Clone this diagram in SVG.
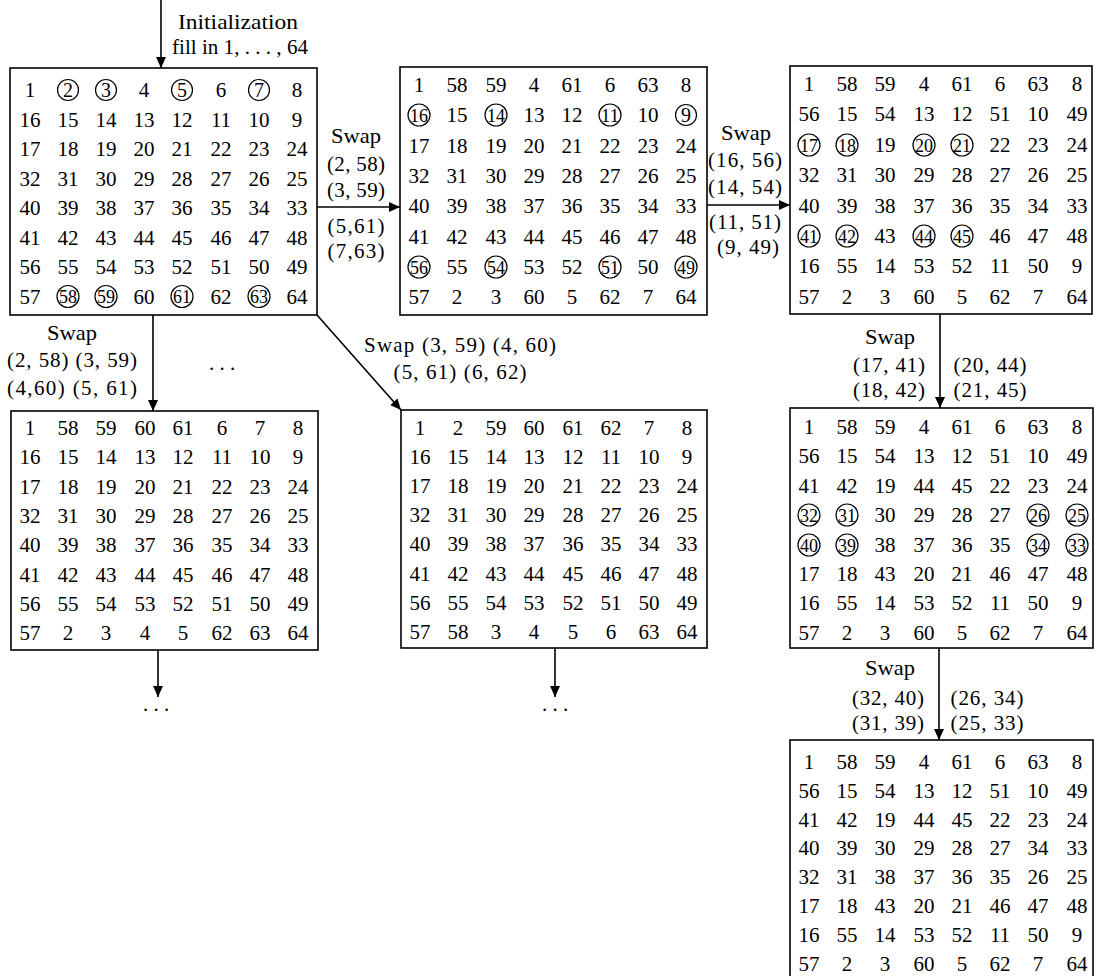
<svg xmlns="http://www.w3.org/2000/svg" width="1098" height="976" viewBox="0 0 1098 976">
<style>
text{font-family:"Liberation Serif","DejaVu Serif",serif;fill:#000}
.n{font-size:21px;text-anchor:middle}
.l{font-size:21px;text-anchor:middle}
.c1{font-size:20px;text-anchor:middle}
.c2{font-size:19px;text-anchor:middle}
.box{fill:#fff;stroke:#000;stroke-width:1.6}
.ring{fill:none;stroke:#000;stroke-width:1.2}
.ln{stroke:#000;stroke-width:1.6;fill:none}
</style>
<defs>
<marker id="ah" markerUnits="userSpaceOnUse" markerWidth="11" markerHeight="10" refX="11" refY="5" orient="auto"><path d="M0,0 L11,5 L0,10 z" fill="#000"/></marker>
</defs>

<g id="connectors">
<line class="ln" x1="161" y1="0" x2="161" y2="68" marker-end="url(#ah)"/>
<line class="ln" x1="317" y1="207" x2="400" y2="207" marker-end="url(#ah)"/>
<line class="ln" x1="707" y1="205" x2="790" y2="205" marker-end="url(#ah)"/>
<line class="ln" x1="153" y1="315" x2="153" y2="411" marker-end="url(#ah)"/>
<line class="ln" x1="317" y1="315" x2="401" y2="410" marker-end="url(#ah)"/>
<line class="ln" x1="158" y1="650" x2="158" y2="697" marker-end="url(#ah)"/>
<line class="ln" x1="555" y1="648" x2="555" y2="697" marker-end="url(#ah)"/>
<line class="ln" x1="940" y1="314" x2="940" y2="408" marker-end="url(#ah)"/>
<line class="ln" x1="939" y1="648" x2="939" y2="740" marker-end="url(#ah)"/>

<text class="l" x="238" y="29" textLength="120" lengthAdjust="spacingAndGlyphs">Initialization</text>
<text class="l" x="240" y="54" textLength="136" lengthAdjust="spacingAndGlyphs">fill in 1, . . . , 64</text>

<text class="l" x="356" y="143" textLength="50" lengthAdjust="spacingAndGlyphs">Swap</text>
<text class="l" x="356" y="171" textLength="58" lengthAdjust="spacing">(2, 58)</text>
<text class="l" x="356" y="197" textLength="58" lengthAdjust="spacing">(3, 59)</text>
<text class="l" x="356" y="233" textLength="57" lengthAdjust="spacing">(5,61)</text>
<text class="l" x="356" y="258" textLength="57" lengthAdjust="spacing">(7,63)</text>

<text class="l" x="746" y="140" textLength="50" lengthAdjust="spacingAndGlyphs">Swap</text>
<text class="l" x="745" y="167" textLength="74" lengthAdjust="spacing">(16, 56)</text>
<text class="l" x="745" y="194" textLength="74" lengthAdjust="spacing">(14, 54)</text>
<text class="l" x="745" y="229" textLength="72" lengthAdjust="spacing">(11, 51)</text>
<text class="l" x="748" y="254" textLength="62" lengthAdjust="spacing">(9, 49)</text>

<text class="l" x="72" y="340" textLength="50" lengthAdjust="spacingAndGlyphs">Swap</text>
<text class="l" x="72" y="367" textLength="130" lengthAdjust="spacing">(2, 58) (3, 59)</text>
<text class="l" x="72" y="395" textLength="130" lengthAdjust="spacing">(4,60) (5, 61)</text>
<text class="l" x="222" y="370">. . .</text>

<text class="l" x="460" y="352" textLength="192" lengthAdjust="spacing">Swap (3, 59) (4, 60)</text>
<text class="l" x="460" y="379" textLength="133" lengthAdjust="spacing">(5, 61) (6, 62)</text>

<text class="l" x="156" y="711">. . .</text>
<text class="l" x="555" y="711">. . .</text>

<text class="l" x="890" y="344" textLength="50" lengthAdjust="spacingAndGlyphs">Swap</text>
<text class="l" x="889" y="372" textLength="72" lengthAdjust="spacing">(17, 41)</text>
<text class="l" x="889" y="397" textLength="72" lengthAdjust="spacing">(18, 42)</text>
<text class="l" x="990" y="372" textLength="73" lengthAdjust="spacing">(20, 44)</text>
<text class="l" x="990" y="397" textLength="73" lengthAdjust="spacing">(21, 45)</text>

<text class="l" x="890" y="675" textLength="50" lengthAdjust="spacingAndGlyphs">Swap</text>
<text class="l" x="888" y="705" textLength="72" lengthAdjust="spacing">(32, 40)</text>
<text class="l" x="888" y="730" textLength="72" lengthAdjust="spacing">(31, 39)</text>
<text class="l" x="987" y="705" textLength="73" lengthAdjust="spacing">(26, 34)</text>
<text class="l" x="987" y="730" textLength="73" lengthAdjust="spacing">(25, 33)</text>
</g>

<g id="box-a">
<rect class="box" x="10" y="68" width="307" height="247"/>
<text class="n" y="97"><tspan x="30">1</tspan><tspan x="144">4</tspan><tspan x="221">6</tspan><tspan x="297">8</tspan></text>
<circle class="ring" cx="68" cy="90" r="10.5"/><text class="c1" x="68" y="96.5">2</text>
<circle class="ring" cx="106" cy="90" r="10.5"/><text class="c1" x="106" y="96.5">3</text>
<circle class="ring" cx="182" cy="90" r="10.5"/><text class="c1" x="182" y="96.5">5</text>
<circle class="ring" cx="259" cy="90" r="10.5"/><text class="c1" x="259" y="96.5">7</text>
<text class="n" y="126.5"><tspan x="30">16</tspan><tspan x="68">15</tspan><tspan x="106">14</tspan><tspan x="144">13</tspan><tspan x="182">12</tspan><tspan x="221">11</tspan><tspan x="259">10</tspan><tspan x="297">9</tspan></text>
<text class="n" y="156"><tspan x="30">17</tspan><tspan x="68">18</tspan><tspan x="106">19</tspan><tspan x="144">20</tspan><tspan x="182">21</tspan><tspan x="221">22</tspan><tspan x="259">23</tspan><tspan x="297">24</tspan></text>
<text class="n" y="185.5"><tspan x="30">32</tspan><tspan x="68">31</tspan><tspan x="106">30</tspan><tspan x="144">29</tspan><tspan x="182">28</tspan><tspan x="221">27</tspan><tspan x="259">26</tspan><tspan x="297">25</tspan></text>
<text class="n" y="215"><tspan x="30">40</tspan><tspan x="68">39</tspan><tspan x="106">38</tspan><tspan x="144">37</tspan><tspan x="182">36</tspan><tspan x="221">35</tspan><tspan x="259">34</tspan><tspan x="297">33</tspan></text>
<text class="n" y="244.5"><tspan x="30">41</tspan><tspan x="68">42</tspan><tspan x="106">43</tspan><tspan x="144">44</tspan><tspan x="182">45</tspan><tspan x="221">46</tspan><tspan x="259">47</tspan><tspan x="297">48</tspan></text>
<text class="n" y="274"><tspan x="30">56</tspan><tspan x="68">55</tspan><tspan x="106">54</tspan><tspan x="144">53</tspan><tspan x="182">52</tspan><tspan x="221">51</tspan><tspan x="259">50</tspan><tspan x="297">49</tspan></text>
<text class="n" y="303.5"><tspan x="30">57</tspan><tspan x="144">60</tspan><tspan x="221">62</tspan><tspan x="297">64</tspan></text>
<circle class="ring" cx="68" cy="296.5" r="11"/><text class="c2" x="68" y="303" textLength="18" lengthAdjust="spacingAndGlyphs">58</text>
<circle class="ring" cx="106" cy="296.5" r="11"/><text class="c2" x="106" y="303" textLength="18" lengthAdjust="spacingAndGlyphs">59</text>
<circle class="ring" cx="182" cy="296.5" r="11"/><text class="c2" x="182" y="303" textLength="18" lengthAdjust="spacingAndGlyphs">61</text>
<circle class="ring" cx="259" cy="296.5" r="11"/><text class="c2" x="259" y="303" textLength="18" lengthAdjust="spacingAndGlyphs">63</text>
</g>

<g id="box-b">
<rect class="box" x="400" y="67" width="307" height="248"/>
<text class="n" y="92"><tspan x="419">1</tspan><tspan x="457">58</tspan><tspan x="496">59</tspan><tspan x="534">4</tspan><tspan x="572">61</tspan><tspan x="610">6</tspan><tspan x="648">63</tspan><tspan x="686">8</tspan></text>
<text class="n" y="122"><tspan x="457">15</tspan><tspan x="534">13</tspan><tspan x="572">12</tspan><tspan x="648">10</tspan></text>
<circle class="ring" cx="419" cy="115" r="11"/><text class="c2" x="419" y="121.5" textLength="18" lengthAdjust="spacingAndGlyphs">16</text>
<circle class="ring" cx="496" cy="115" r="11"/><text class="c2" x="496" y="121.5" textLength="18" lengthAdjust="spacingAndGlyphs">14</text>
<circle class="ring" cx="610" cy="115" r="11"/><text class="c2" x="610" y="121.5" textLength="18" lengthAdjust="spacingAndGlyphs">11</text>
<circle class="ring" cx="686" cy="115" r="10.5"/><text class="c1" x="686" y="121.5">9</text>
<text class="n" y="153"><tspan x="419">17</tspan><tspan x="457">18</tspan><tspan x="496">19</tspan><tspan x="534">20</tspan><tspan x="572">21</tspan><tspan x="610">22</tspan><tspan x="648">23</tspan><tspan x="686">24</tspan></text>
<text class="n" y="183"><tspan x="419">32</tspan><tspan x="457">31</tspan><tspan x="496">30</tspan><tspan x="534">29</tspan><tspan x="572">28</tspan><tspan x="610">27</tspan><tspan x="648">26</tspan><tspan x="686">25</tspan></text>
<text class="n" y="213"><tspan x="419">40</tspan><tspan x="457">39</tspan><tspan x="496">38</tspan><tspan x="534">37</tspan><tspan x="572">36</tspan><tspan x="610">35</tspan><tspan x="648">34</tspan><tspan x="686">33</tspan></text>
<text class="n" y="244"><tspan x="419">41</tspan><tspan x="457">42</tspan><tspan x="496">43</tspan><tspan x="534">44</tspan><tspan x="572">45</tspan><tspan x="610">46</tspan><tspan x="648">47</tspan><tspan x="686">48</tspan></text>
<text class="n" y="274"><tspan x="457">55</tspan><tspan x="534">53</tspan><tspan x="572">52</tspan><tspan x="648">50</tspan></text>
<circle class="ring" cx="419" cy="267" r="11"/><text class="c2" x="419" y="273.5" textLength="18" lengthAdjust="spacingAndGlyphs">56</text>
<circle class="ring" cx="496" cy="267" r="11"/><text class="c2" x="496" y="273.5" textLength="18" lengthAdjust="spacingAndGlyphs">54</text>
<circle class="ring" cx="610" cy="267" r="11"/><text class="c2" x="610" y="273.5" textLength="18" lengthAdjust="spacingAndGlyphs">51</text>
<circle class="ring" cx="686" cy="267" r="11"/><text class="c2" x="686" y="273.5" textLength="18" lengthAdjust="spacingAndGlyphs">49</text>
<text class="n" y="304"><tspan x="419">57</tspan><tspan x="457">2</tspan><tspan x="496">3</tspan><tspan x="534">60</tspan><tspan x="572">5</tspan><tspan x="610">62</tspan><tspan x="648">7</tspan><tspan x="686">64</tspan></text>
</g>

<g id="box-c">
<rect class="box" x="790" y="66" width="302" height="248"/>
<text class="n" y="91"><tspan x="809">1</tspan><tspan x="847">58</tspan><tspan x="885">59</tspan><tspan x="924">4</tspan><tspan x="962">61</tspan><tspan x="1000">6</tspan><tspan x="1038">63</tspan><tspan x="1077">8</tspan></text>
<text class="n" y="121"><tspan x="809">56</tspan><tspan x="847">15</tspan><tspan x="885">54</tspan><tspan x="924">13</tspan><tspan x="962">12</tspan><tspan x="1000">51</tspan><tspan x="1038">10</tspan><tspan x="1077">49</tspan></text>
<text class="n" y="152"><tspan x="885">19</tspan><tspan x="1000">22</tspan><tspan x="1038">23</tspan><tspan x="1077">24</tspan></text>
<circle class="ring" cx="809" cy="145" r="11"/><text class="c2" x="809" y="151.5" textLength="18" lengthAdjust="spacingAndGlyphs">17</text>
<circle class="ring" cx="847" cy="145" r="11"/><text class="c2" x="847" y="151.5" textLength="18" lengthAdjust="spacingAndGlyphs">18</text>
<circle class="ring" cx="924" cy="145" r="11"/><text class="c2" x="924" y="151.5" textLength="18" lengthAdjust="spacingAndGlyphs">20</text>
<circle class="ring" cx="962" cy="145" r="11"/><text class="c2" x="962" y="151.5" textLength="18" lengthAdjust="spacingAndGlyphs">21</text>
<text class="n" y="182"><tspan x="809">32</tspan><tspan x="847">31</tspan><tspan x="885">30</tspan><tspan x="924">29</tspan><tspan x="962">28</tspan><tspan x="1000">27</tspan><tspan x="1038">26</tspan><tspan x="1077">25</tspan></text>
<text class="n" y="213"><tspan x="809">40</tspan><tspan x="847">39</tspan><tspan x="885">38</tspan><tspan x="924">37</tspan><tspan x="962">36</tspan><tspan x="1000">35</tspan><tspan x="1038">34</tspan><tspan x="1077">33</tspan></text>
<text class="n" y="243"><tspan x="885">43</tspan><tspan x="1000">46</tspan><tspan x="1038">47</tspan><tspan x="1077">48</tspan></text>
<circle class="ring" cx="809" cy="236" r="11"/><text class="c2" x="809" y="242.5" textLength="18" lengthAdjust="spacingAndGlyphs">41</text>
<circle class="ring" cx="847" cy="236" r="11"/><text class="c2" x="847" y="242.5" textLength="18" lengthAdjust="spacingAndGlyphs">42</text>
<circle class="ring" cx="924" cy="236" r="11"/><text class="c2" x="924" y="242.5" textLength="18" lengthAdjust="spacingAndGlyphs">44</text>
<circle class="ring" cx="962" cy="236" r="11"/><text class="c2" x="962" y="242.5" textLength="18" lengthAdjust="spacingAndGlyphs">45</text>
<text class="n" y="273"><tspan x="809">16</tspan><tspan x="847">55</tspan><tspan x="885">14</tspan><tspan x="924">53</tspan><tspan x="962">52</tspan><tspan x="1000">11</tspan><tspan x="1038">50</tspan><tspan x="1077">9</tspan></text>
<text class="n" y="304"><tspan x="809">57</tspan><tspan x="847">2</tspan><tspan x="885">3</tspan><tspan x="924">60</tspan><tspan x="962">5</tspan><tspan x="1000">62</tspan><tspan x="1038">7</tspan><tspan x="1077">64</tspan></text>
</g>

<g id="box-d">
<rect class="box" x="11" y="411" width="307" height="239"/>
<text class="n" y="435"><tspan x="30">1</tspan><tspan x="68">58</tspan><tspan x="106">59</tspan><tspan x="145">60</tspan><tspan x="183">61</tspan><tspan x="222">6</tspan><tspan x="260">7</tspan><tspan x="298">8</tspan></text>
<text class="n" y="464"><tspan x="30">16</tspan><tspan x="68">15</tspan><tspan x="106">14</tspan><tspan x="145">13</tspan><tspan x="183">12</tspan><tspan x="222">11</tspan><tspan x="260">10</tspan><tspan x="298">9</tspan></text>
<text class="n" y="494"><tspan x="30">17</tspan><tspan x="68">18</tspan><tspan x="106">19</tspan><tspan x="145">20</tspan><tspan x="183">21</tspan><tspan x="222">22</tspan><tspan x="260">23</tspan><tspan x="298">24</tspan></text>
<text class="n" y="523"><tspan x="30">32</tspan><tspan x="68">31</tspan><tspan x="106">30</tspan><tspan x="145">29</tspan><tspan x="183">28</tspan><tspan x="222">27</tspan><tspan x="260">26</tspan><tspan x="298">25</tspan></text>
<text class="n" y="552"><tspan x="30">40</tspan><tspan x="68">39</tspan><tspan x="106">38</tspan><tspan x="145">37</tspan><tspan x="183">36</tspan><tspan x="222">35</tspan><tspan x="260">34</tspan><tspan x="298">33</tspan></text>
<text class="n" y="582"><tspan x="30">41</tspan><tspan x="68">42</tspan><tspan x="106">43</tspan><tspan x="145">44</tspan><tspan x="183">45</tspan><tspan x="222">46</tspan><tspan x="260">47</tspan><tspan x="298">48</tspan></text>
<text class="n" y="611"><tspan x="30">56</tspan><tspan x="68">55</tspan><tspan x="106">54</tspan><tspan x="145">53</tspan><tspan x="183">52</tspan><tspan x="222">51</tspan><tspan x="260">50</tspan><tspan x="298">49</tspan></text>
<text class="n" y="640"><tspan x="30">57</tspan><tspan x="68">2</tspan><tspan x="106">3</tspan><tspan x="145">4</tspan><tspan x="183">5</tspan><tspan x="222">62</tspan><tspan x="260">63</tspan><tspan x="298">64</tspan></text>
</g>

<g id="box-e">
<rect class="box" x="401" y="410" width="306" height="238"/>
<text class="n" y="435"><tspan x="420">1</tspan><tspan x="458">2</tspan><tspan x="496">59</tspan><tspan x="534">60</tspan><tspan x="573">61</tspan><tspan x="611">62</tspan><tspan x="649">7</tspan><tspan x="687">8</tspan></text>
<text class="n" y="464"><tspan x="420">16</tspan><tspan x="458">15</tspan><tspan x="496">14</tspan><tspan x="534">13</tspan><tspan x="573">12</tspan><tspan x="611">11</tspan><tspan x="649">10</tspan><tspan x="687">9</tspan></text>
<text class="n" y="493"><tspan x="420">17</tspan><tspan x="458">18</tspan><tspan x="496">19</tspan><tspan x="534">20</tspan><tspan x="573">21</tspan><tspan x="611">22</tspan><tspan x="649">23</tspan><tspan x="687">24</tspan></text>
<text class="n" y="522"><tspan x="420">32</tspan><tspan x="458">31</tspan><tspan x="496">30</tspan><tspan x="534">29</tspan><tspan x="573">28</tspan><tspan x="611">27</tspan><tspan x="649">26</tspan><tspan x="687">25</tspan></text>
<text class="n" y="551"><tspan x="420">40</tspan><tspan x="458">39</tspan><tspan x="496">38</tspan><tspan x="534">37</tspan><tspan x="573">36</tspan><tspan x="611">35</tspan><tspan x="649">34</tspan><tspan x="687">33</tspan></text>
<text class="n" y="581"><tspan x="420">41</tspan><tspan x="458">42</tspan><tspan x="496">43</tspan><tspan x="534">44</tspan><tspan x="573">45</tspan><tspan x="611">46</tspan><tspan x="649">47</tspan><tspan x="687">48</tspan></text>
<text class="n" y="610"><tspan x="420">56</tspan><tspan x="458">55</tspan><tspan x="496">54</tspan><tspan x="534">53</tspan><tspan x="573">52</tspan><tspan x="611">51</tspan><tspan x="649">50</tspan><tspan x="687">49</tspan></text>
<text class="n" y="639"><tspan x="420">57</tspan><tspan x="458">58</tspan><tspan x="496">3</tspan><tspan x="534">4</tspan><tspan x="573">5</tspan><tspan x="611">6</tspan><tspan x="649">63</tspan><tspan x="687">64</tspan></text>
</g>

<g id="box-f">
<rect class="box" x="790" y="408" width="303" height="240"/>
<text class="n" y="434"><tspan x="809">1</tspan><tspan x="847">58</tspan><tspan x="885">59</tspan><tspan x="924">4</tspan><tspan x="962">61</tspan><tspan x="1000">6</tspan><tspan x="1038">63</tspan><tspan x="1077">8</tspan></text>
<text class="n" y="463"><tspan x="809">56</tspan><tspan x="847">15</tspan><tspan x="885">54</tspan><tspan x="924">13</tspan><tspan x="962">12</tspan><tspan x="1000">51</tspan><tspan x="1038">10</tspan><tspan x="1077">49</tspan></text>
<text class="n" y="493"><tspan x="809">41</tspan><tspan x="847">42</tspan><tspan x="885">19</tspan><tspan x="924">44</tspan><tspan x="962">45</tspan><tspan x="1000">22</tspan><tspan x="1038">23</tspan><tspan x="1077">24</tspan></text>
<text class="n" y="522"><tspan x="885">30</tspan><tspan x="924">29</tspan><tspan x="962">28</tspan><tspan x="1000">27</tspan></text>
<circle class="ring" cx="809" cy="515" r="11"/><text class="c2" x="809" y="521.5" textLength="18" lengthAdjust="spacingAndGlyphs">32</text>
<circle class="ring" cx="847" cy="515" r="11"/><text class="c2" x="847" y="521.5" textLength="18" lengthAdjust="spacingAndGlyphs">31</text>
<circle class="ring" cx="1038" cy="515" r="11"/><text class="c2" x="1038" y="521.5" textLength="18" lengthAdjust="spacingAndGlyphs">26</text>
<circle class="ring" cx="1077" cy="515" r="11"/><text class="c2" x="1077" y="521.5" textLength="18" lengthAdjust="spacingAndGlyphs">25</text>
<text class="n" y="552"><tspan x="885">38</tspan><tspan x="924">37</tspan><tspan x="962">36</tspan><tspan x="1000">35</tspan></text>
<circle class="ring" cx="809" cy="545" r="11"/><text class="c2" x="809" y="551.5" textLength="18" lengthAdjust="spacingAndGlyphs">40</text>
<circle class="ring" cx="847" cy="545" r="11"/><text class="c2" x="847" y="551.5" textLength="18" lengthAdjust="spacingAndGlyphs">39</text>
<circle class="ring" cx="1038" cy="545" r="11"/><text class="c2" x="1038" y="551.5" textLength="18" lengthAdjust="spacingAndGlyphs">34</text>
<circle class="ring" cx="1077" cy="545" r="11"/><text class="c2" x="1077" y="551.5" textLength="18" lengthAdjust="spacingAndGlyphs">33</text>
<text class="n" y="581"><tspan x="809">17</tspan><tspan x="847">18</tspan><tspan x="885">43</tspan><tspan x="924">20</tspan><tspan x="962">21</tspan><tspan x="1000">46</tspan><tspan x="1038">47</tspan><tspan x="1077">48</tspan></text>
<text class="n" y="610"><tspan x="809">16</tspan><tspan x="847">55</tspan><tspan x="885">14</tspan><tspan x="924">53</tspan><tspan x="962">52</tspan><tspan x="1000">11</tspan><tspan x="1038">50</tspan><tspan x="1077">9</tspan></text>
<text class="n" y="640"><tspan x="809">57</tspan><tspan x="847">2</tspan><tspan x="885">3</tspan><tspan x="924">60</tspan><tspan x="962">5</tspan><tspan x="1000">62</tspan><tspan x="1038">7</tspan><tspan x="1077">64</tspan></text>
</g>

<g id="box-g">
<rect class="box" x="790" y="740" width="303" height="242"/>
<text class="n" y="769"><tspan x="809">1</tspan><tspan x="847">58</tspan><tspan x="885">59</tspan><tspan x="924">4</tspan><tspan x="962">61</tspan><tspan x="1000">6</tspan><tspan x="1038">63</tspan><tspan x="1077">8</tspan></text>
<text class="n" y="798"><tspan x="809">56</tspan><tspan x="847">15</tspan><tspan x="885">54</tspan><tspan x="924">13</tspan><tspan x="962">12</tspan><tspan x="1000">51</tspan><tspan x="1038">10</tspan><tspan x="1077">49</tspan></text>
<text class="n" y="827"><tspan x="809">41</tspan><tspan x="847">42</tspan><tspan x="885">19</tspan><tspan x="924">44</tspan><tspan x="962">45</tspan><tspan x="1000">22</tspan><tspan x="1038">23</tspan><tspan x="1077">24</tspan></text>
<text class="n" y="855"><tspan x="809">40</tspan><tspan x="847">39</tspan><tspan x="885">30</tspan><tspan x="924">29</tspan><tspan x="962">28</tspan><tspan x="1000">27</tspan><tspan x="1038">34</tspan><tspan x="1077">33</tspan></text>
<text class="n" y="884"><tspan x="809">32</tspan><tspan x="847">31</tspan><tspan x="885">38</tspan><tspan x="924">37</tspan><tspan x="962">36</tspan><tspan x="1000">35</tspan><tspan x="1038">26</tspan><tspan x="1077">25</tspan></text>
<text class="n" y="913"><tspan x="809">17</tspan><tspan x="847">18</tspan><tspan x="885">43</tspan><tspan x="924">20</tspan><tspan x="962">21</tspan><tspan x="1000">46</tspan><tspan x="1038">47</tspan><tspan x="1077">48</tspan></text>
<text class="n" y="942"><tspan x="809">16</tspan><tspan x="847">55</tspan><tspan x="885">14</tspan><tspan x="924">53</tspan><tspan x="962">52</tspan><tspan x="1000">11</tspan><tspan x="1038">50</tspan><tspan x="1077">9</tspan></text>
<text class="n" y="971"><tspan x="809">57</tspan><tspan x="847">2</tspan><tspan x="885">3</tspan><tspan x="924">60</tspan><tspan x="962">5</tspan><tspan x="1000">62</tspan><tspan x="1038">7</tspan><tspan x="1077">64</tspan></text>
</g>
</svg>
